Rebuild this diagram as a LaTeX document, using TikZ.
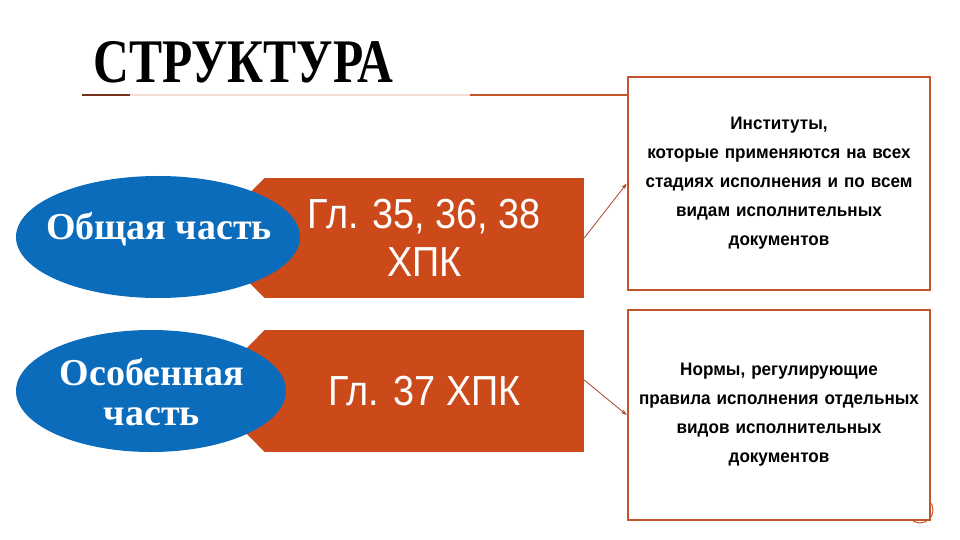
\documentclass[tikz,border=0pt]{standalone}
\usepackage{fontspec}
\setmainfont{Liberation Serif}
\newfontfamily\narrowfont[FakeStretch=0.9]{Liberation Sans}
\newfontfamily\notefont[FakeStretch=0.95]{Liberation Sans}
\newfontfamily\titlefont[FakeStretch=0.8]{Liberation Serif}
\usetikzlibrary{shapes.geometric, arrows.meta}
\definecolor{rust}{RGB}{204,74,26}
\definecolor{sea}{RGB}{12,108,188}
\definecolor{brick}{RGB}{196,84,44}

\begin{document}
\begin{tikzpicture}[x=1pt, y=-1pt,
  part/.style = {ellipse, fill=sea, inner sep=0pt, minimum height=122pt},
  parttext/.style = {text=white, font=\bfseries\fontsize{38}{40}\selectfont, align=center, inner sep=0pt},
  chap/.style = {fill=rust, text=white, font=\narrowfont\fontsize{42}{48}\selectfont, align=center, minimum width=319pt},
  note/.style = {draw=brick, line width=2.5pt, fill=white, inner sep=3pt, text width=296pt, font=\notefont\bfseries\fontsize{18}{29}\selectfont, align=center},
  link/.style = {-{Stealth[length=6pt, width=4pt]}, draw=brick!85!black, line width=0.8pt}]
\useasboundingbox (0,0) rectangle (960,540);
\fill[white] (0,0) rectangle (960,540);

\node[font=\titlefont\bfseries\fontsize{62}{70}\selectfont, anchor=base west, inner sep=0pt] (title) at (93,83) {СТРУКТУРА};
\draw[brick!20, line width=1.5pt] (82,95) -- (628,95);
\draw[brick!60!black, line width=1.5pt] (82,95) -- (130,95);
\draw[brick, line width=1.5pt] (470,95) -- (628,95);

\node[chap, minimum height=120pt] (gl1) at (424.5,238) {Гл. 35, 36, 38\\ХПК};
\fill[rust] (gl1.north west) -- ([xshift=-60pt]gl1.west) -- (gl1.south west) -- cycle;
\node[chap, minimum height=122pt] (gl2) at (424.5,391) {Гл. 37 ХПК};
\fill[rust] (gl2.north west) -- ([xshift=-60pt]gl2.west) -- (gl2.south west) -- cycle;

\node[part, minimum width=284pt] (general) at (158,237) {};
\node[parttext] (generaltext) at (159,229) {Общая часть};
\node[part, minimum width=270pt] (special) at (151,391) {};
\node[parttext] (specialtext) at (152,392) {Особенная\\часть};

\draw[brick, line width=1pt] (920,510) circle (13pt);
\node[note, minimum height=213pt] (inst) at (779,183.5) {Институты,\\которые применяются на всех\\стадиях исполнения и по всем\\видам исполнительных\\документов};
\node[note, minimum height=210pt] (norms) at (779,415) {Нормы, регулирующие\\правила исполнения отдельных\\видов исполнительных\\документов};

\draw[link] (gl1.east) -- (inst.west);
\draw[link] ([yshift=11pt]gl2.east) -- (norms.west);
\end{tikzpicture}
\end{document}
